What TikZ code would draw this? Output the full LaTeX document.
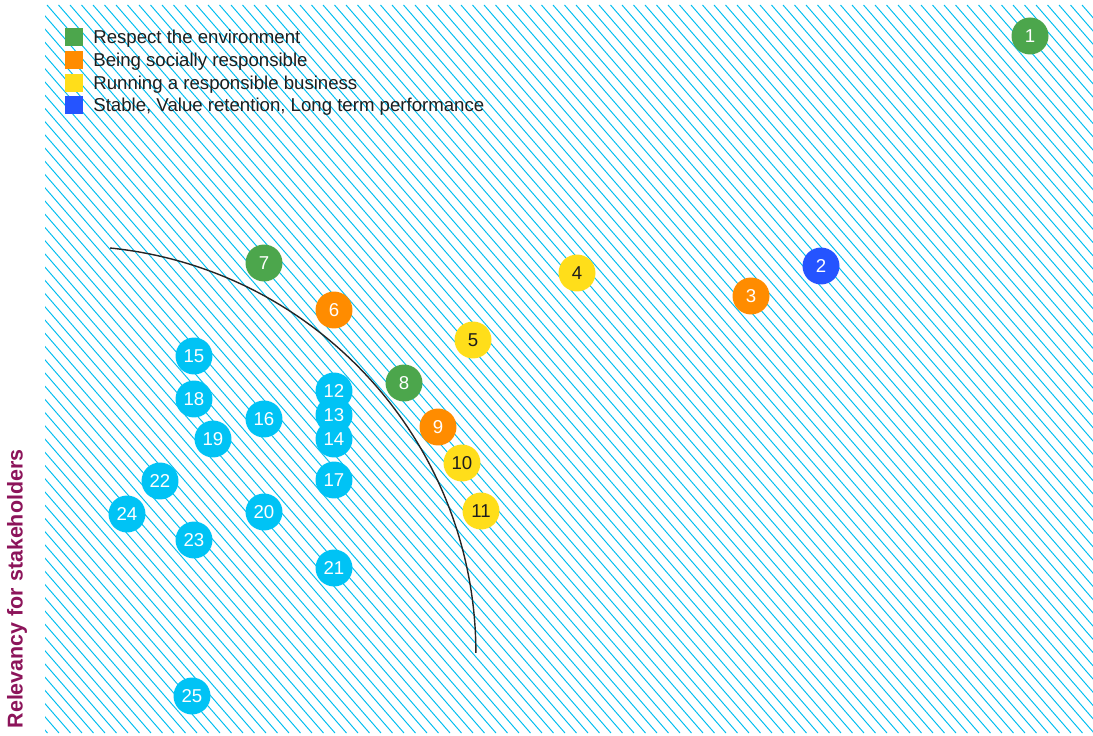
\documentclass[tikz,border=0pt]{standalone}
\usepackage{fontspec}
\setmainfont{Liberation Sans}

\definecolor{envgreen}{RGB}{76,166,76}
\definecolor{socorange}{RGB}{255,140,0}
\definecolor{bizyellow}{RGB}{255,222,26}
\definecolor{perfblue}{RGB}{37,84,255}
\definecolor{topiccyan}{RGB}{0,195,245}
\definecolor{hatchcyan}{RGB}{0,190,240}
\definecolor{axispurple}{RGB}{140,20,90}
\definecolor{darktext}{RGB}{30,30,30}

\tikzset{
  hatch/.style={draw=hatchcyan,line width=0.55pt},
  dot/.style={circle,fill=#1,minimum size=0.74cm,inner sep=0pt,
    font=\fontsize{10.6}{12}\selectfont},
  legbox/.style={fill=#1,minimum size=0.36cm,inner sep=0pt},
  legtext/.style={anchor=base west,inner sep=0pt,text=darktext,
    font=\fontsize{10.6}{12}\selectfont}
}

\begin{document}
\begin{tikzpicture}[x=0.02cm,y=-0.02cm]
\useasboundingbox (0,0) rectangle (1093,736);

% hatched field
\begin{scope}
\clip (45,5) rectangle (1093,733);
\foreach \h in {-620,-608.5,...,1100}
  \draw[hatch] (\h,5) -- ++(633,728);
\end{scope}

% boundary curve
\draw[line width=0.8pt,black!85] (110,248) arc[start angle=-84.2,end angle=0,radius=407];

% topics
\foreach \n/\px/\py/\c/\t in {
  1/1030/36/envgreen/white, 2/821/266/perfblue/white,
  3/751/296/socorange/white, 4/577/273/bizyellow/darktext,
  5/473/340/bizyellow/darktext, 6/334/310/socorange/white,
  7/264/263/envgreen/white, 8/404/383/envgreen/white,
  9/438/427/socorange/white, 10/462/463/bizyellow/darktext,
  11/481/511/bizyellow/darktext, 12/334/391/topiccyan/white,
  13/334/415/topiccyan/white, 14/334/439/topiccyan/white,
  15/194/356/topiccyan/white, 16/264/419/topiccyan/white,
  17/334/480/topiccyan/white, 18/194/399/topiccyan/white,
  19/213/439/topiccyan/white, 20/264/512/topiccyan/white,
  21/334/568/topiccyan/white, 22/160/481/topiccyan/white,
  23/194/540/topiccyan/white, 24/127/514/topiccyan/white,
  25/192/696/topiccyan/white}
  \node[dot=\c,text=\t] (n\n) at (\px,\py) {\n};

% legend
\node[legbox=envgreen] (lg1) at (74,37) {};
\node[legtext] (lt1) at (93,44) {Respect the environment};
\node[legbox=socorange] (lg2) at (74,60) {};
\node[legtext] (lt2) at (93,67) {Being socially responsible};
\node[legbox=bizyellow] (lg3) at (74,83) {};
\node[legtext] (lt3) at (93,90) {Running a responsible business};
\node[legbox=perfblue] (lg4) at (74,105) {};
\node[legtext] (lt4) at (93,112) {Stable, Value retention, Long term performance};

% axis label
\node[rotate=90,text=axispurple,font=\bfseries\fontsize{12.2}{14}\selectfont]
  (ylab) at (17,589) {Relevancy for stakeholders};
\end{tikzpicture}
\end{document}
